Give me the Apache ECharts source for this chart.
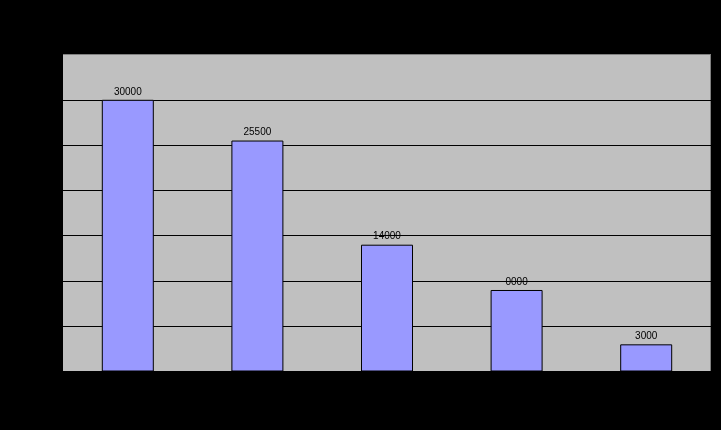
<!DOCTYPE html>
<html>
<head>
<meta charset="utf-8">
<script src="https://cdn.jsdelivr.net/npm/echarts@6/dist/echarts.min.js"></script>
<style>
html,body{margin:0;padding:0;background:#000;}
#chart{width:721px;height:430px;}
</style>
</head>
<body>
<div id="chart"></div>
<script>
var categories = ['A', 'B', 'C', 'D', 'E'];
var values = [30000, 25500, 14000, 9000, 3000];
var labelTexts = ['30000', '25500', '14000', '0000', '3000'];
var yTicks = [0, 5000, 10000, 15000, 20000, 25000, 30000, 35000];

var chart = echarts.init(document.getElementById('chart'), null, {renderer: 'canvas'});
var gridColors = yTicks.map(function (t, i) { return i === yTicks.length - 1 ? '#808080' : '#000000'; });
chart.setOption({
  backgroundColor: '#000000',
  animation: false,
  grid: {
    left: 63, top: 54.5, width: 648, bottom: 58.5,
    show: true, backgroundColor: '#C0C0C0', borderWidth: 0
  },
  xAxis: {
    type: 'category',
    data: categories,
    axisLine: {show: true, lineStyle: {color: '#000000', width: 1}},
    axisTick: {show: false},
    axisLabel: {show: false},
    splitLine: {show: false}
  },
  yAxis: {
    type: 'value',
    min: yTicks[0],
    max: yTicks[yTicks.length - 1],
    interval: 5000,
    axisLine: {show: false},
    axisTick: {show: false},
    axisLabel: {show: false},
    splitLine: {show: true, lineStyle: {color: gridColors, width: 1}}
  },
  series: [{
    type: 'bar',
    data: values,
    barWidth: 52,
    itemStyle: {color: '#9999FF', borderColor: '#000000', borderWidth: 1},
    label: {
      show: true,
      position: 'top',
      distance: 3,
      color: '#000000',
      fontFamily: 'Liberation Sans, Arial, sans-serif',
      fontSize: 10,
      formatter: function (p) { return labelTexts[p.dataIndex]; }
    }
  }],
  graphic: [{
    type: 'line',
    shape: {x1: 710.5, y1: 54, x2: 710.5, y2: 371},
    style: {stroke: '#808080', lineWidth: 1},
    silent: true
  }]
});
</script>
</body>
</html>
